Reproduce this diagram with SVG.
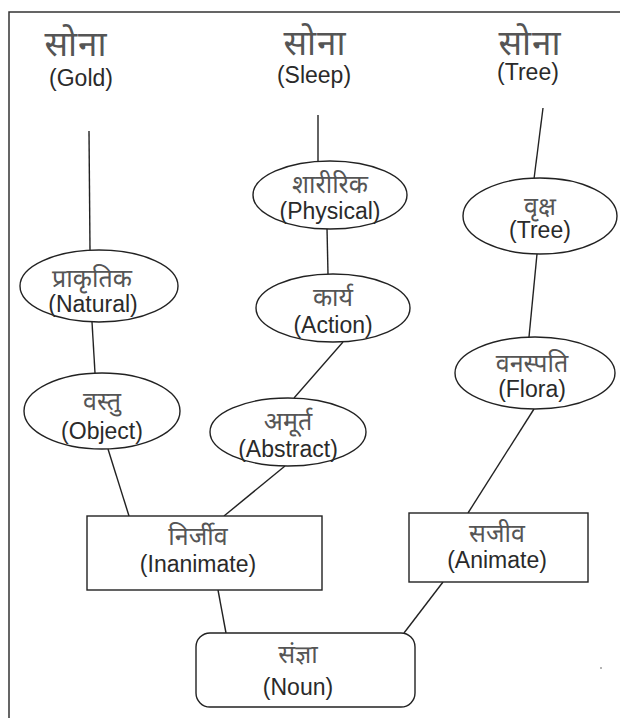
<svg xmlns="http://www.w3.org/2000/svg" width="620" height="718" viewBox="0 0 620 718">
<style>
.shape{fill:#fff;stroke:#222;stroke-width:1.4}
.conn line{stroke:#222;stroke-width:1.4}
.hi{font-family:"Noto Sans Devanagari","Noto Sans","Liberation Sans",sans-serif;font-size:25px;fill:#555;text-anchor:middle}
.hd{font-family:"Noto Sans Devanagari","Noto Sans","Liberation Sans",sans-serif;font-size:35px;fill:#555;text-anchor:middle;letter-spacing:1px}
.en{font-family:"Liberation Sans",Arial,sans-serif;font-size:23px;fill:#2a2a2a;text-anchor:middle}
</style>
<rect width="620" height="718" fill="#fff"/>
<path d="M9 718 V12 H620" fill="none" stroke="#333" stroke-width="1.5"/>
<g id="conn" class="conn">
<line x1="89" y1="131" x2="90" y2="250"/>
<line x1="318" y1="115" x2="318" y2="161"/>
<line x1="543" y1="108" x2="534" y2="179"/>
<line x1="327" y1="228" x2="328" y2="274"/>
<line x1="537" y1="254" x2="529" y2="337"/>
<line x1="92" y1="322" x2="95" y2="373"/>
<line x1="343" y1="342" x2="294" y2="398"/>
<line x1="108" y1="449" x2="129" y2="516"/>
<line x1="285" y1="466" x2="224" y2="516"/>
<line x1="534" y1="409" x2="468" y2="513"/>
<line x1="218" y1="590" x2="226" y2="633"/>
<line x1="443" y1="582" x2="404" y2="633"/>
</g>
<g id="gold"><text class="hd" x="76" y="56">सोना</text><text class="en" x="81" y="86">(Gold)</text></g>
<g id="sleep"><text class="hd" x="315" y="55">सोना</text><text class="en" x="314" y="83">(Sleep)</text></g>
<g id="tree-top"><text class="hd" x="530" y="55">सोना</text><text class="en" x="528" y="80">(Tree)</text></g>
<g id="physical"><ellipse class="shape" cx="330" cy="195" rx="77" ry="34"/><text class="hi" x="330" y="193">शारीरिक</text><text class="en" x="330" y="219">(Physical)</text></g>
<g id="action"><ellipse class="shape" cx="333" cy="308" rx="77" ry="34"/><text class="hi" x="333" y="306">कार्य</text><text class="en" x="333" y="333">(Action)</text></g>
<g id="abstract"><ellipse class="shape" cx="288" cy="432" rx="78" ry="34"/><text class="hi" x="288" y="430">अमूर्त</text><text class="en" x="288" y="457">(Abstract)</text></g>
<g id="natural"><ellipse class="shape" cx="99" cy="286" rx="79" ry="36"/><text class="hi" x="92" y="287">प्राकृतिक</text><text class="en" x="93" y="312">(Natural)</text></g>
<g id="object"><ellipse class="shape" cx="102" cy="411" rx="78" ry="38"/><text class="hi" x="102" y="410">वस्तु</text><text class="en" x="102" y="439">(Object)</text></g>
<g id="vriksh"><ellipse class="shape" cx="540" cy="216" rx="77" ry="38"/><text class="hi" x="540" y="215">वृक्ष</text><text class="en" x="540" y="238">(Tree)</text></g>
<g id="flora"><ellipse class="shape" cx="535" cy="373" rx="80" ry="36"/><text class="hi" x="532" y="372">वनस्पति</text><text class="en" x="532" y="397">(Flora)</text></g>
<g id="inanimate"><rect class="shape" x="87" y="516" width="235" height="74"/><text class="hi" x="198" y="545">निर्जीव</text><text class="en" x="198" y="572">(Inanimate)</text></g>
<g id="animate"><rect class="shape" x="409" y="513" width="179" height="69"/><text class="hi" x="497" y="542">सजीव</text><text class="en" x="497" y="568">(Animate)</text></g>
<g id="noun"><rect class="shape" x="196" y="633" width="219" height="74" rx="14"/><text class="hi" x="298" y="663">संज्ञा</text><text class="en" x="298" y="695">(Noun)</text></g>
<circle cx="601" cy="668" r="0.8" fill="#555"/>
</svg>
